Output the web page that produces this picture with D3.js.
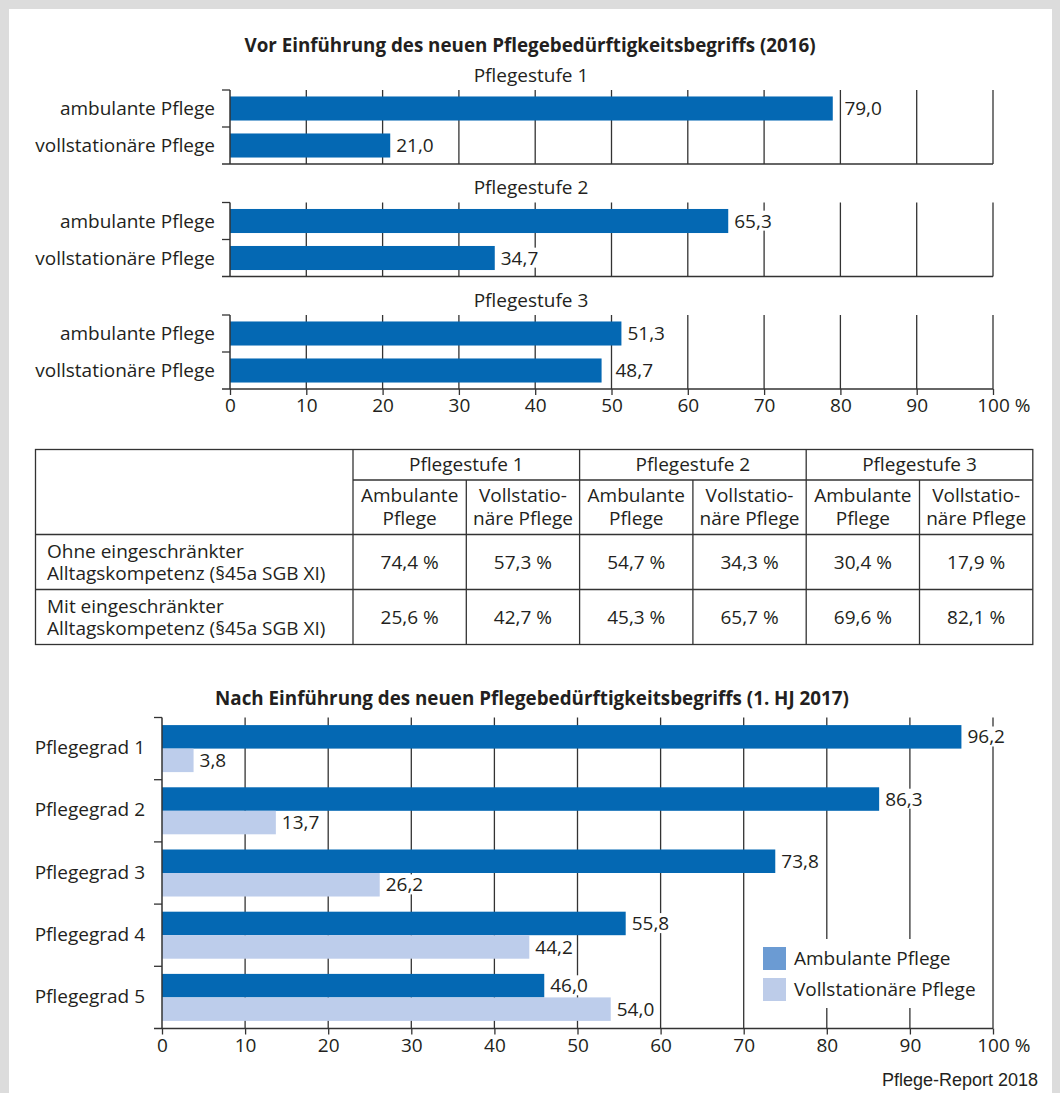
<!DOCTYPE html>
<html>
<head>
<meta charset="utf-8">
<script src="https://cdn.jsdelivr.net/npm/d3@7"></script>
<style>
  html, body { margin: 0; padding: 0; background: #dcdcdc; }
  svg { display: block; }
  text { font-family: "Open Sans", "Noto Sans", sans-serif; fill: #231f20; }
</style>
</head>
<body>
<svg id="chart" width="1060" height="1093"></svg>
<script>
// ---- data ----
const stufen = ["Pflegestufe 1", "Pflegestufe 2", "Pflegestufe 3"];
const pflegeArten = ["ambulante Pflege", "vollstationäre Pflege"];
const ambulant2016 = [79.0, 65.3, 51.3];
const stationaer2016 = [21.0, 34.7, 48.7];

const tableGroups = ["Pflegestufe 1", "Pflegestufe 2", "Pflegestufe 3"];
const tableSubHeads = [["Ambulante", "Pflege"], ["Vollstatio-", "näre Pflege"]];
const tableRowLabels = [
  ["Ohne eingeschränkter", "Alltagskompetenz (§45a SGB XI)"],
  ["Mit eingeschränkter", "Alltagskompetenz (§45a SGB XI)"]
];
const ohneEA = ["74,4 %", "57,3 %", "54,7 %", "34,3 %", "30,4 %", "17,9 %"];
const mitEA = ["25,6 %", "42,7 %", "45,3 %", "65,7 %", "69,6 %", "82,1 %"];

const grade = ["Pflegegrad 1", "Pflegegrad 2", "Pflegegrad 3", "Pflegegrad 4", "Pflegegrad 5"];
const ambulant2017 = [96.2, 86.3, 73.8, 55.8, 46.0];
const stationaer2017 = [3.8, 13.7, 26.2, 44.2, 54.0];
const legendLabels = ["Ambulante Pflege", "Vollstationäre Pflege"];
const xTicks = [0, 10, 20, 30, 40, 50, 60, 70, 80, 90, 100];

const title2016 = "Vor Einführung des neuen Pflegebedürftigkeitsbegriffs (2016)";
const title2017 = "Nach Einführung des neuen Pflegebedürftigkeitsbegriffs (1. HJ 2017)";
const source = "Pflege-Report 2018";

// ---- styling ----
const W = 1060, H = 1093;
const DARK = "#0468b3", LIGHT = "#bdcdeb";
const LEG_DARK = "#6b9bd3", LEG_LIGHT = "#bdcce9";
const INK = "#231f20", GRID = "#333333";
const FONT = "'Open Sans', 'Noto Sans', sans-serif";
const FS = 19, FS_TITLE = 18.8;

const fmt = v => v.toFixed(1).replace(".", ",");
const svg = d3.select("#chart");

svg.append("rect").attr("width", W).attr("height", H).attr("fill", "#dcdcdc");
svg.append("rect").attr("x", 9).attr("y", 9).attr("width", 1043).attr("height", H - 9).attr("fill", "#fff");

// label start: just after the bar, or past a gridline sitting right behind the bar end
function labelX(ticksPx, xEnd) {
  const hit = ticksPx.find(t => t > xEnd + 0.5 && t < xEnd + 10.5);
  return hit !== undefined ? hit + 4 : xEnd + 6;
}
function drawLabel(g, lx, yMid, txt) {
  const t = g.append("text").attr("x", lx).attr("y", yMid).attr("dy", "0.35em")
    .attr("font-size", FS).text(txt);
  const bb = t.node().getBBox();
  g.insert("rect", () => t.node()).attr("x", bb.x - 1).attr("y", bb.y + 3)
    .attr("width", bb.width + 2).attr("height", bb.height - 6).attr("fill", "#fff");
}
// two-line text block centred vertically on yMid
function twoLines(g, x, yMid, lines, gap, anchor) {
  const t = g.append("text").attr("x", x).attr("y", yMid - gap / 2).attr("dy", "0.35em")
    .attr("text-anchor", anchor).attr("font-size", FS);
  lines.forEach((ln, li) => t.append("tspan").attr("x", x).attr("dy", li === 0 ? "0.35em" : gap).text(ln));
  t.attr("dy", null);
}

// ================= 2016 chart =================
const x1 = d3.scaleLinear().domain([0, 100]).range([230, 993]);
const panelTop = d3.scalePoint().domain(stufen).range([90, 315]);
const panelH = 74;
const upper = svg.append("g");

upper.append("text").attr("x", 530).attr("y", 45).attr("dy", "0.35em").attr("text-anchor", "middle")
  .attr("font-size", FS_TITLE).attr("font-weight", 700).text(title2016);

const ticksPx1 = xTicks.map(d => x1(d));

stufen.forEach((s, i) => {
  const y0 = panelTop(s);
  const g = upper.append("g");
  g.append("text").attr("x", 531).attr("y", y0 - 15).attr("dy", "0.35em").attr("text-anchor", "middle")
    .attr("font-size", FS).text(s);

  const yb = d3.scaleBand().domain(pflegeArten).range([y0, y0 + panelH]).paddingInner(0.35).paddingOuter(0.175);

  g.selectAll("line.grid").data(xTicks.slice(1)).join("line")
    .attr("x1", d => x1(d)).attr("x2", d => x1(d)).attr("y1", y0).attr("y2", y0 + panelH)
    .attr("stroke", GRID).attr("stroke-width", 1.3);

  const vals = [ambulant2016[i], stationaer2016[i]];
  g.selectAll("rect.bar").data(vals).join("rect")
    .attr("x", x1(0)).attr("y", (d, j) => yb(pflegeArten[j]))
    .attr("width", d => x1(d) - x1(0)).attr("height", yb.bandwidth()).attr("fill", DARK);

  vals.forEach((v, j) => {
    const yMid = yb(pflegeArten[j]) + yb.bandwidth() / 2;
    drawLabel(g, labelX(ticksPx1, x1(v)), yMid, fmt(v));
    g.append("text").attr("x", 215).attr("y", yMid).attr("dy", "0.35em").attr("text-anchor", "end")
      .attr("font-size", FS).text(pflegeArten[j]);
  });

  g.append("line").attr("x1", x1(0)).attr("x2", x1(0)).attr("y1", y0).attr("y2", y0 + panelH)
    .attr("stroke", GRID).attr("stroke-width", 1.5);
  [y0, y0 + panelH / 2].forEach(yy => g.append("line").attr("x1", x1(0) - 8).attr("x2", x1(0))
    .attr("y1", yy).attr("y2", yy).attr("stroke", GRID).attr("stroke-width", 1.3));
  g.append("line").attr("x1", x1(0) - 8).attr("x2", x1(100)).attr("y1", y0 + panelH).attr("y2", y0 + panelH)
    .attr("stroke", GRID).attr("stroke-width", 1.6);
});

function styleAxis(ax, suffix) {
  ax.select(".domain").remove();
  ax.selectAll(".tick line").attr("stroke", GRID).attr("stroke-width", 1.3);
  ax.selectAll(".tick text").attr("font-size", FS).attr("fill", INK).attr("font-family", FONT);
  ax.selectAll(".tick text").filter(d => d === 100).each(function () {
    const w = this.getComputedTextLength();
    d3.select(this).attr("text-anchor", "start").attr("x", -w / 2);
    d3.select(this).append("tspan").text(suffix);
  });
}

const yAxis1 = panelTop(stufen[2]) + panelH;
upper.append("g").attr("transform", `translate(0,${yAxis1})`)
  .call(d3.axisBottom(x1).tickValues(xTicks).tickSize(6).tickPadding(4).tickFormat(d => String(d)))
  .call(ax => styleAxis(ax, "\u00a0%"));

// ================= table =================
const tbl = svg.append("g");
const colX = [35.5, 353].concat(d3.range(1, 7).map(k => 353 + k * 113.3));
const rowY = [449.5, 480, 534.5, 589.5, 644.5];
function tline(ax, ay, bx, by) {
  tbl.append("line").attr("x1", ax).attr("y1", ay).attr("x2", bx).attr("y2", by)
    .attr("stroke", GRID).attr("stroke-width", 1.3);
}
tbl.append("rect").attr("x", colX[0]).attr("y", rowY[0]).attr("width", colX[7] - colX[0])
  .attr("height", rowY[4] - rowY[0]).attr("fill", "none").attr("stroke", GRID).attr("stroke-width", 1.3);
tline(colX[1], rowY[0], colX[1], rowY[4]);
tline(colX[1], rowY[1], colX[7], rowY[1]);
tline(colX[0], rowY[2], colX[7], rowY[2]);
tline(colX[0], rowY[3], colX[7], rowY[3]);
[3, 5].forEach(k => tline(colX[k], rowY[0], colX[k], rowY[4]));
[2, 4, 6].forEach(k => tline(colX[k], rowY[1], colX[k], rowY[4]));

tableGroups.forEach((gname, k) => {
  const cx = (colX[1 + 2 * k] + colX[3 + 2 * k]) / 2;
  tbl.append("text").attr("x", cx).attr("y", (rowY[0] + rowY[1]) / 2).attr("dy", "0.35em")
    .attr("text-anchor", "middle").attr("font-size", FS).text(gname);
  tableSubHeads.forEach((lines, j) => {
    const c = 1 + 2 * k + j;
    twoLines(tbl, (colX[c] + colX[c + 1]) / 2, (rowY[1] + rowY[2]) / 2, lines, 23, "middle");
  });
});
[ohneEA, mitEA].forEach((row, r) => {
  const yMid = (rowY[2 + r] + rowY[3 + r]) / 2;
  twoLines(tbl, 47, yMid, tableRowLabels[r], 22, "start");
  row.forEach((v, c) => tbl.append("text").attr("x", (colX[c + 1] + colX[c + 2]) / 2).attr("y", yMid)
    .attr("dy", "0.35em").attr("text-anchor", "middle").attr("font-size", FS).text(v));
});

// ================= 2017 chart =================
const x2 = d3.scaleLinear().domain([0, 100]).range([162, 993]);
const y2 = d3.scaleBand().domain(grade).range([717.5, 1028.5]);
const inner = d3.scaleBand().domain(["amb", "stat"]).range([0, y2.bandwidth()]).paddingInner(0).paddingOuter(0.323);
const lower = svg.append("g");
const ticksPx2 = xTicks.map(d => x2(d));

lower.append("text").attr("x", 532).attr("y", 698).attr("dy", "0.35em").attr("text-anchor", "middle")
  .attr("font-size", FS_TITLE).attr("font-weight", 700).text(title2017);

lower.selectAll("line.grid").data(xTicks.slice(1)).join("line")
  .attr("x1", d => x2(d)).attr("x2", d => x2(d)).attr("y1", y2.range()[0]).attr("y2", y2.range()[1])
  .attr("stroke", GRID).attr("stroke-width", 1.3);

grade.forEach((gname, i) => {
  const yb = y2(gname);
  const rows = [[ambulant2017[i], "amb", DARK], [stationaer2017[i], "stat", LIGHT]];
  rows.forEach(([v, key, col]) => {
    lower.append("rect").attr("x", x2(0)).attr("y", yb + inner(key)).attr("width", x2(v) - x2(0))
      .attr("height", inner.bandwidth()).attr("fill", col);
  });
  rows.forEach(([v, key]) => {
    const yMid = yb + inner(key) + inner.bandwidth() / 2;
    drawLabel(lower, labelX(ticksPx2, x2(v)), yMid, fmt(v));
  });
  lower.append("text").attr("x", 145).attr("y", yb + y2.bandwidth() / 2 - 1).attr("dy", "0.35em")
    .attr("text-anchor", "end").attr("font-size", FS).text(gname);
});

// legend with white backing over the grid
const lg = lower.append("g");
lg.append("rect").attr("x", 752).attr("y", 939).attr("width", 232).attr("height", 69).attr("fill", "#fff");
[LEG_DARK, LEG_LIGHT].forEach((c, k) => {
  lg.append("rect").attr("x", 763).attr("y", 947 + k * 31).attr("width", 23).attr("height", 23).attr("fill", c);
  lg.append("text").attr("x", 794).attr("y", 958.5 + k * 31).attr("dy", "0.35em").attr("font-size", FS)
    .text(legendLabels[k]);
});

lower.append("line").attr("x1", x2(0)).attr("x2", x2(0)).attr("y1", y2.range()[0]).attr("y2", y2.range()[1])
  .attr("stroke", GRID).attr("stroke-width", 1.5);
grade.forEach(gname => lower.append("line").attr("x1", x2(0) - 8).attr("x2", x2(0))
  .attr("y1", y2(gname)).attr("y2", y2(gname)).attr("stroke", GRID).attr("stroke-width", 1.3));
lower.append("line").attr("x1", x2(0) - 8).attr("x2", x2(100)).attr("y1", y2.range()[1]).attr("y2", y2.range()[1])
  .attr("stroke", GRID).attr("stroke-width", 1.6);
lower.append("g").attr("transform", `translate(0,${y2.range()[1]})`)
  .call(d3.axisBottom(x2).tickValues(xTicks).tickSize(6).tickPadding(4).tickFormat(d => String(d)))
  .call(ax => styleAxis(ax, "\u00a0%"));

svg.append("text").attr("x", 1038).attr("y", 1080).attr("dy", "0.35em").attr("text-anchor", "end")
  .attr("font-size", 18).style("font-family", "'Liberation Sans', Arial, sans-serif").text(source);
</script>
</body>
</html>
